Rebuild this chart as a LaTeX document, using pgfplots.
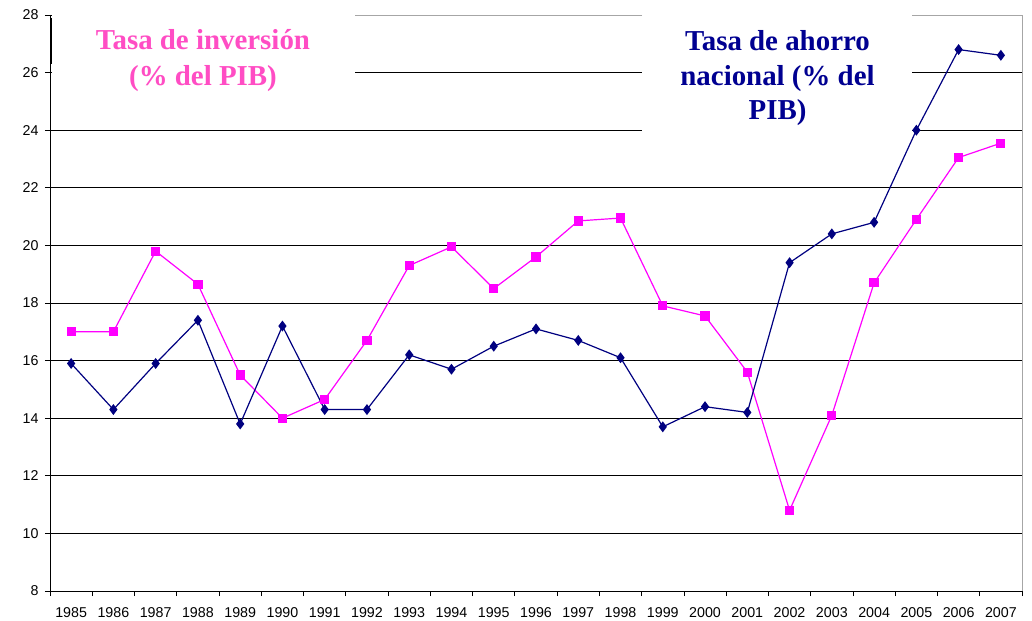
\documentclass[border=0pt]{standalone}
\usepackage{pgfplots}
\pgfplotsset{compat=1.18}
\usepackage{pgfplotstable}
\usepackage{fontspec}
\setmainfont{Liberation Sans}
\newfontfamily\titlefont{Liberation Serif}
\definecolor{inv}{RGB}{255,0,255}
\definecolor{ah}{RGB}{0,0,128}
\definecolor{invtxt}{RGB}{255,77,196}
\definecolor{ahtxt}{RGB}{0,0,145}
\pgfplotstableread{
x inv ah
0 17.0 15.9
1 17.0 14.3
2 19.8 15.9
3 18.65 17.4
4 15.5 13.8
5 14.0 17.2
6 14.65 14.3
7 16.7 14.3
8 19.3 16.2
9 19.95 15.7
10 18.5 16.5
11 19.6 17.1
12 20.85 16.7
13 20.95 16.1
14 17.9 13.7
15 17.55 14.4
16 15.6 14.2
17 10.8 19.4
18 14.1 20.4
19 18.7 20.8
20 20.9 24.0
21 23.05 26.8
22 23.55 26.6
}\data
\begin{document}
\begin{tikzpicture}
\useasboundingbox (-50bp,-30bp) rectangle (982bp,591bp);
\begin{axis}[
  scale only axis, width=972bp, height=576bp,
  xmin=-0.5, xmax=22.5, ymin=8, ymax=28,
  clip=false,
  axis line style={draw=none},
  ytick={8,10,...,28},
  xtick={0,...,22},
  xticklabels={1985,1986,1987,1988,1989,1990,1991,1992,1993,1994,1995,1996,1997,1998,1999,2000,2001,2002,2003,2004,2005,2006,2007},
  minor xtick={-0.5,0.5,...,22.5},
  major x tick style={draw=none},
  tick align=outside, tick pos=left,
  major tick length=5bp, minor tick length=5bp,
  tick style={black, line width=0.8bp},
  ymajorgrids, grid style={black, line width=0.6bp},
  /pgf/number format/assume math mode=true,
  tick label style={font=\fontsize{14.3}{16}\selectfont},
  xticklabel style={yshift=-8.5bp},
  yticklabel style={xshift=-3bp},
]
\addplot[color=inv, line width=1.2bp, mark=square*, mark size=4bp, mark options={solid, fill=inv}] table[x=x, y=inv] {\data};
\addplot[color=ah, line width=1.2bp, mark=diamond*, mark size=4.5bp, mark options={solid, fill=ah}] table[x=x, y=ah] {\data};
% white text boxes over the gridlines
\fill[white] (axis cs:-0.46,25.0) rectangle (axis cs:6.72,28.2);
\fill[white] (axis cs:13.51,23.93) rectangle (axis cs:19.9,28.2);
% frame
\draw[gray!70, line width=0.8bp] (axis cs:22.5,8) -- (axis cs:22.5,28) -- (axis cs:19.9,28);
\draw[gray!70, line width=0.8bp] (axis cs:13.51,28) -- (axis cs:6.72,28);
\draw[black, line width=0.9bp] (axis cs:-0.5,28) -- (axis cs:-0.5,8) -- (axis cs:22.5,8);
\draw[black, line width=0.9bp] (axis cs:-0.465,27.9) -- (axis cs:-0.465,26.3);
% titles
\node[align=center, inner sep=0pt, text=invtxt, font=\titlefont\bfseries\fontsize{29}{35.5}\selectfont] at (axis cs:3.12,26.42) {Tasa de inversión\\(\% del PIB)};
\node[align=center, inner sep=0pt, text=ahtxt, font=\titlefont\bfseries\fontsize{29}{35}\selectfont] at (axis cs:16.715,25.81) {Tasa de ahorro\\nacional (\% del\\PIB)};
\end{axis}
\end{tikzpicture}
\end{document}
